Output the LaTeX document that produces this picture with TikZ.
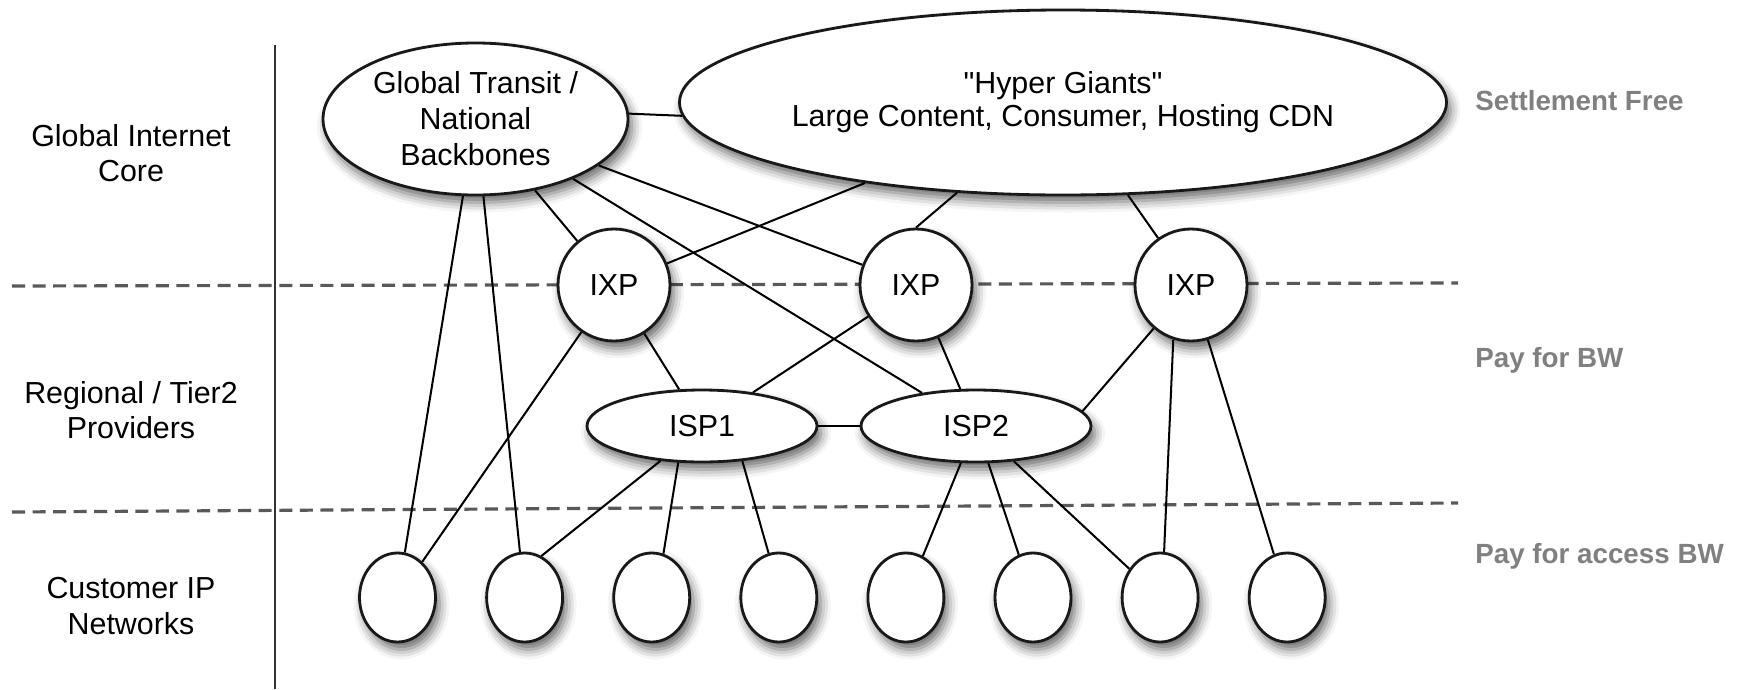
\documentclass[tikz,border=0pt]{standalone}
\usepackage{fontspec}
\setmainfont{Liberation Sans}
\newfontfamily\qfont{Liberation Sans}
\usetikzlibrary{shapes.geometric,shadows.blur}
\begin{document}
\begin{tikzpicture}[x=0.2mm,y=-0.2mm,
  every node/.style={font=\fontsize{17.3}{20.5}\selectfont},
  nd/.style={ellipse, draw=black!90, line width=1.6pt, fill=white, inner sep=0pt,
    blur shadow={shadow xshift=0.8mm, shadow yshift=-1.5mm, shadow blur radius=2mm, shadow opacity=60}},
  cust/.style={nd, minimum width=15.2mm, minimum height=17.8mm},
  ixp/.style={nd, circle, minimum size=22.4mm},
  isp/.style={nd, minimum width=46mm, minimum height=14.4mm},
  lnk/.style={line width=1.15pt, black},
  sep/.style={draw=black!65, line width=1.8pt, dash pattern=on 7.4pt off 4.3pt},
  lab/.style={align=center, font=\fontsize{17.3}{20}\selectfont},
  pay/.style={anchor=base west, inner sep=0pt, text=black!50, font=\fontsize{15.8}{18}\selectfont\bfseries}]
\useasboundingbox (0,0) rectangle (1738,689);
% tier separators
\draw[sep] (12,286) -- (1458,283);
\draw[sep] (12,512) -- (1458,503);
\draw[line width=1.7pt, black!80] (275,45) -- (275,689);
% nodes
\node[nd, minimum width=61mm, minimum height=30.4mm, align=center] (GT) at (475.5,119) {Global Transit /\\National\\Backbones};
\node[nd, minimum width=144mm, minimum height=37mm, align=center, font=\fontsize{17.3}{18.8}\selectfont] (HG) at (1063,102.5) {{\qfont"Hyper Giants"}\\Large Content, Consumer, Hosting CDN};
\node[ixp] (IXP1) at (614,285) {IXP};
\node[ixp] (IXP2) at (916,285) {IXP};
\node[ixp] (IXP3) at (1191,285) {IXP};
\node[isp] (ISP1) at (702,426) {ISP1};
\node[isp] (ISP2) at (976,426) {ISP2};
\foreach \i in {1,...,8} \node[cust] (C\i) at ({397.5+127.1*(\i-1)},597.5) {};
% labels
\node[lab] (L1) at (131,153) {Global Internet\\Core};
\node[lab] (L2) at (131,410) {Regional / Tier2\\Providers};
\node[lab] (L3) at (131,606) {Customer IP\\Networks};
\node[pay] (R1) at (1475,110) {Settlement Free};
\node[pay] (R2) at (1475,367) {Pay for BW};
\node[pay] (R3) at (1475,563) {Pay for access BW};
% links
\draw[lnk] (GT.2) -- (HG.182);
\draw[lnk] (GT) -- (C1);
\draw[lnk] (GT) -- (C2);
\draw[lnk] (GT) -- (IXP1);
\draw[lnk] (GT) -- (IXP2);
\draw[lnk] (GT) -- (ISP2);
\draw[lnk] (HG) -- (IXP1);
\draw[lnk] (HG) -- (IXP2.north);
\draw[lnk] (HG) -- (IXP3);
\draw[lnk] (IXP1) -- (C1);
\draw[lnk] (IXP1) -- (ISP1);
\draw[lnk] (IXP2) -- (ISP1);
\draw[lnk] (IXP2) -- (ISP2);
\draw[lnk] (ISP1) -- (ISP2);
\draw[lnk] (IXP3) -- (ISP2.8);
\draw[lnk] (IXP3.252) -- (C7.85);
\draw[lnk] (IXP3) -- (C8);
\draw[lnk] (ISP1.220) -- (C2.68);
\draw[lnk] (ISP1.237) -- (C3.75);
\draw[lnk] (ISP1.319) -- (C4.103);
\draw[lnk] (ISP2) -- (C5);
\draw[lnk] (ISP2) -- (C6);
\draw[lnk] (ISP2) -- (C7);
\end{tikzpicture}
\end{document}
